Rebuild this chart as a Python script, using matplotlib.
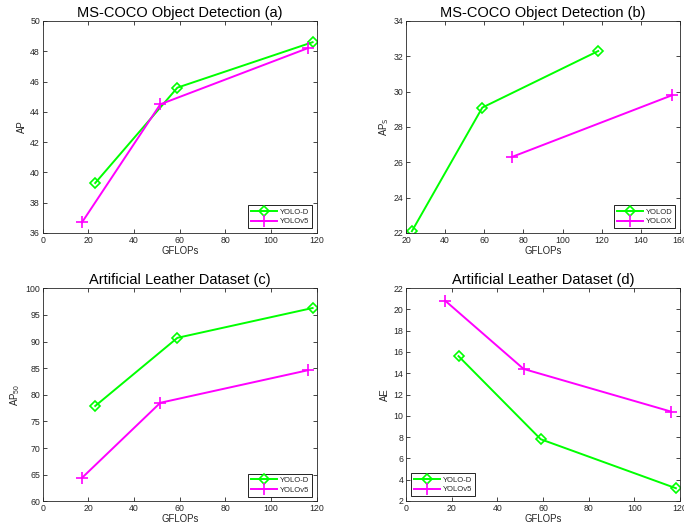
import matplotlib
matplotlib.use('Agg')
import matplotlib.pyplot as plt

plt.rcParams['font.family'] = ['Liberation Sans', 'DejaVu Sans']
plt.rcParams['mathtext.default'] = 'regular'

# 데이터
gflops_d = [23, 59, 118.2]
gflops_v5 = [17.2, 51.5, 116]
gflops_x = [74, 156]

ap_d = [39.3, 45.6, 48.6]
ap_v5 = [36.7, 44.5, 48.2]

aps_d = [22.1, 29.1, 32.3]
aps_x = [26.3, 29.8]

ap50_d = [77.9, 90.7, 96.3]
ap50_v5 = [64.4, 78.5, 84.6]

ae_d = [15.6, 7.8, 3.2]
ae_v5 = [20.8, 14.4, 10.4]

GREEN = '#00ff00'
MAGENTA = '#ff00ff'
GREY = '#262626'

fig = plt.figure(figsize=(6.84, 5.29), dpi=100)
W, H = 684, 529


def make_ax(x0, y0, x1, y1):
    return fig.add_axes([x0 / W, 1 - y1 / H, (x1 - x0) / W, (y1 - y0) / H])


def style(ax, title, ylabel, xlim, ylim, xticks, yticks):
    ax.set_xlim(xlim)
    ax.set_ylim(ylim)
    ax.set_xticks(xticks)
    ax.set_yticks(yticks)
    ax.tick_params(direction='in', top=True, right=True, length=3, width=0.6,
                   labelsize=6.3, colors=GREY, pad=2)
    for s in ax.spines.values():
        s.set_linewidth(0.6)
        s.set_color(GREY)
    ax.set_title(title, fontsize=10.5, pad=3)
    ax.set_xlabel('GFLOPs', fontsize=6.9, color=GREY, labelpad=1)
    ax.set_ylabel(ylabel, fontsize=6.9, color=GREY, labelpad=2)


def draw(ax, x1, y1, l1, x2, y2, l2, loc):
    ax.plot(x1, y1, color=GREEN, lw=1.4, marker='D', ms=5, mfc='none', mew=1.2, label=l1)
    ax.plot(x2, y2, color=MAGENTA, lw=1.4, marker='+', ms=8, mew=1.2, label=l2)
    leg = ax.legend(loc=loc, fontsize=5.5, fancybox=False, framealpha=1,
                    edgecolor='black', handlelength=3.5, borderpad=0.4,
                    labelspacing=0.3, handletextpad=0.3, borderaxespad=0.6)
    leg.get_frame().set_linewidth(0.6)
    for t in leg.get_texts():
        t.set_color(GREY)


# (a)
ax = make_ax(42.7, 21, 316.7, 233)
draw(ax, gflops_d, ap_d, 'YOLO-D', gflops_v5, ap_v5, 'YOLOv5', 'lower right')
style(ax, 'MS-COCO Object Detection (a)', 'AP', (0, 120), (36, 50),
      range(0, 121, 20), range(36, 51, 2))

# (b)
ax = make_ax(406, 21, 680, 233)
draw(ax, gflops_d, aps_d, 'YOLOD', gflops_x, aps_x, 'YOLOX', 'lower right')
style(ax, 'MS-COCO Object Detection (b)', r'AP$_{\mathrm{S}}$', (20, 160), (22, 34),
      range(20, 161, 20), range(22, 35, 2))

# (c)
ax = make_ax(42.7, 288.3, 316.7, 501.3)
draw(ax, gflops_d, ap50_d, 'YOLO-D', gflops_v5, ap50_v5, 'YOLOv5', 'lower right')
style(ax, 'Artificial Leather Dataset (c)', r'AP$_{50}$', (0, 120), (60, 100),
      range(0, 121, 20), range(60, 101, 5))

# (d)
ax = make_ax(406, 288, 680, 501)
draw(ax, gflops_d, ae_d, 'YOLO-D', gflops_v5, ae_v5, 'YOLOv5', 'lower left')
style(ax, 'Artificial Leather Dataset (d)', 'AE', (0, 120), (2, 22),
      range(0, 121, 20), range(2, 23, 2))

plt.savefig('out.png', dpi=100)
